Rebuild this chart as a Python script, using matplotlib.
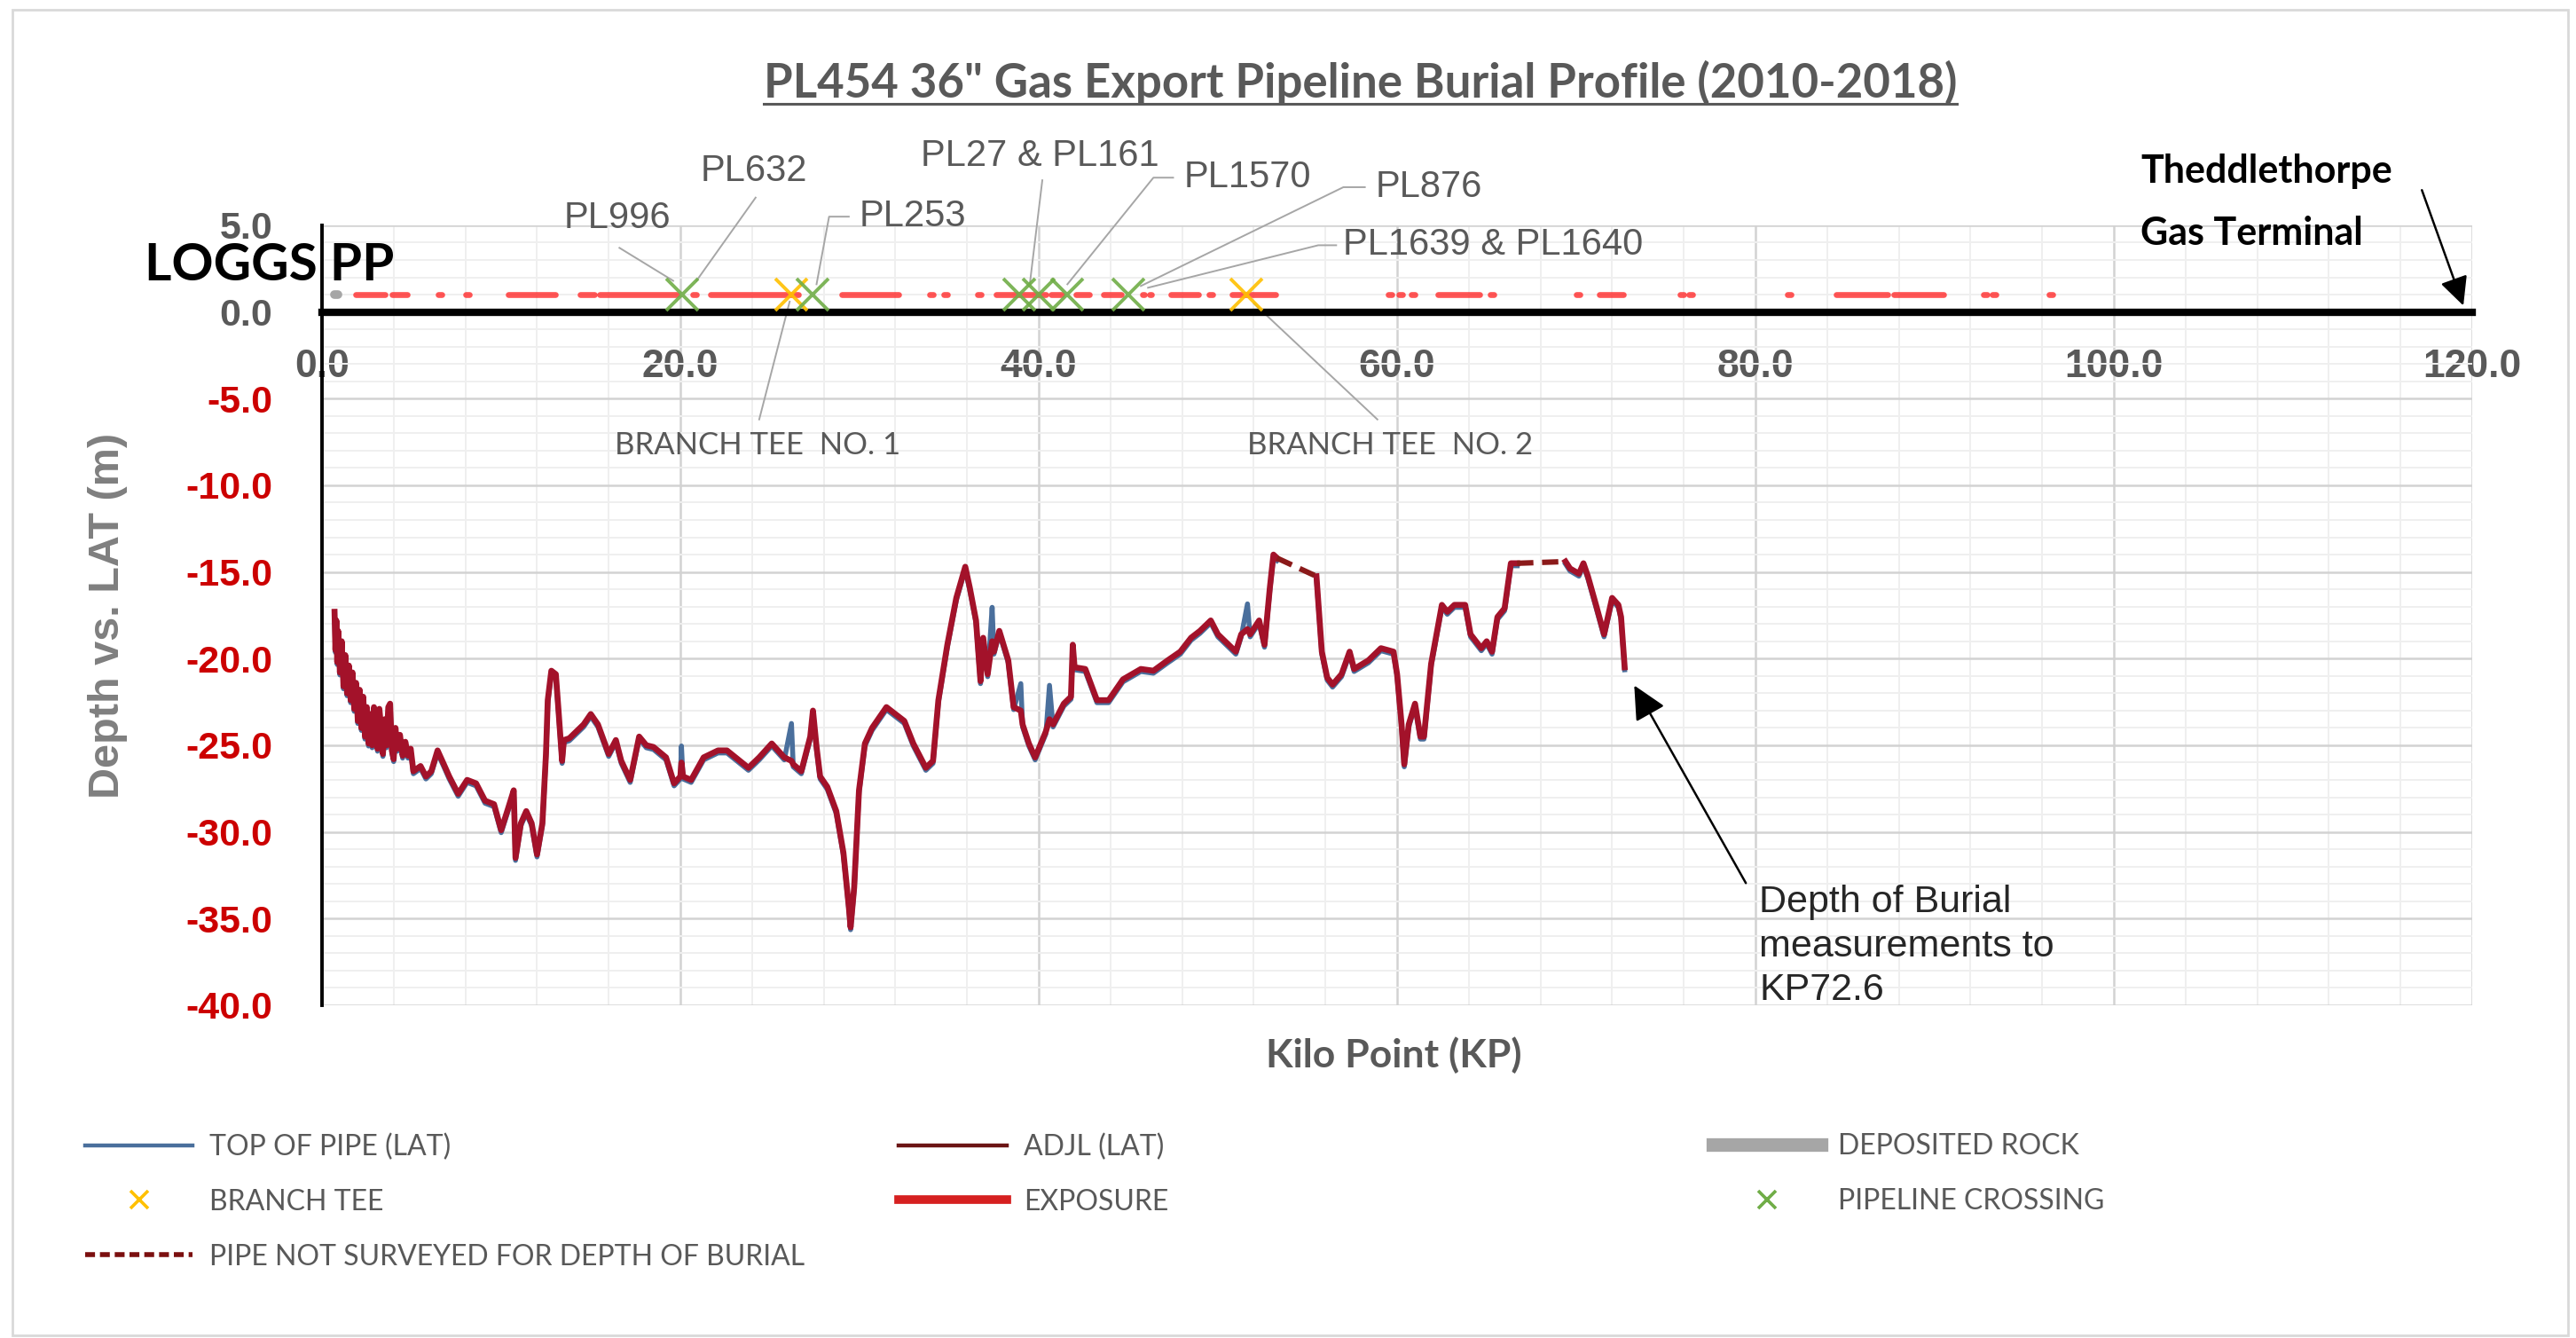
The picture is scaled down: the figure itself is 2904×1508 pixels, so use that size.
import matplotlib
matplotlib.use("Agg")
import matplotlib.pyplot as plt
import matplotlib.transforms as mtransforms
from matplotlib.lines import Line2D
from matplotlib.patches import Rectangle
import numpy as np

plt.rcParams['font.family'] = ['Liberation Sans', 'DejaVu Sans']

# ---- burial profile, block 1 (KP 0.7 - 53.3) ----
kp_1 = [0.7, 0.75, 0.8, 0.85, 0.9, 1.0, 1.1, 1.2, 1.3, 1.4,
        1.5, 1.6, 1.7, 1.8, 1.9, 2.0, 2.1, 2.2, 2.3, 2.4,
        2.5, 2.6, 2.7, 2.8, 2.9, 3.0, 3.1, 3.2, 3.3, 3.4,
        3.5, 3.6, 3.7, 3.8, 3.9, 4.0, 4.1, 4.2, 4.35, 4.5,
        4.65, 4.8, 4.95, 5.1,
        5.5, 5.8, 6.1, 6.45, 6.8, 7.1,
        7.6, 8.1, 8.6, 9.1, 9.6, 10.0, 10.4, 10.7, 10.8, 11.1,
        11.4, 11.7, 12.0, 12.3, 12.5, 12.6, 12.8, 13.05, 13.2, 13.4,
        13.5, 13.8, 14.2, 14.6, 15.0, 15.4, 16.0, 16.4, 16.7, 17.2,
        17.7, 18.1, 18.5, 19.2, 19.65, 20.0, 20.06, 20.15, 20.6, 21.3,
        22.1, 22.6, 23.2, 23.8, 24.4, 25.1, 25.8, 26.2, 26.3, 26.75,
        27.25, 27.4, 27.6, 27.8, 28.2, 28.7, 29.1, 29.4, 29.5, 29.7,
        29.97, 30.3, 30.7, 31.5, 32.5, 33.0, 33.7, 34.1, 34.4, 34.9,
        35.4, 35.9, 36.15, 36.5, 36.75, 36.9, 37.15, 37.4, 37.5, 37.8,
        38.3, 38.6, 39.0, 39.1, 39.45, 39.8, 40.4, 40.6, 40.8, 41.4,
        41.8, 41.9, 42.0, 42.6, 43.25, 43.9, 44.7, 45.7, 46.4, 47.2,
        47.9, 48.5, 49.0, 49.6, 50.0, 51.0, 51.3, 51.65, 51.8, 52.3,
        52.6, 52.9, 53.1, 53.3]
adjl_1 = [-17.3, -19.5, -17.8, -20.2, -18.4, -20.8, -19.0, -21.6, -19.8, -22.0,
          -20.4, -22.4, -20.8, -22.9, -21.4, -23.6, -21.8, -24.0, -22.2, -24.5,
          -22.8, -24.9, -23.2, -25.0, -22.8, -23.2, -25.2, -22.9, -24.0, -25.5,
          -23.5, -25.0, -22.8, -22.6, -25.3, -25.8, -24.0, -25.2, -24.4, -25.6,
          -24.8, -25.6, -25.2, -26.5,
          -26.2, -26.8, -26.5, -25.3, -26.1, -26.8,
          -27.8, -27.0, -27.2, -28.2, -28.4, -29.9, -28.6, -27.6, -31.5, -29.5,
          -28.8, -29.5, -31.3, -29.5, -25.5, -22.4, -20.7, -20.9, -23.0, -25.9,
          -24.7, -24.6, -24.2, -23.8, -23.2, -23.8, -25.5, -24.7, -25.9, -27.0,
          -24.5, -25.0, -25.1, -25.7, -27.2, -26.8, -26.0, -26.8, -27.0, -25.7,
          -25.3, -25.3, -25.8, -26.3, -25.7, -24.9, -25.7, -25.9, -26.1, -26.5,
          -24.5, -23.0, -25.1, -26.8, -27.4, -28.8, -31.2, -34.3, -35.5, -33.2,
          -27.6, -24.9, -24.0, -22.8, -23.6, -24.9, -26.3, -25.9, -22.4, -19.2,
          -16.5, -14.7, -15.9, -17.8, -21.3, -18.8, -20.9, -19.0, -19.6, -18.4,
          -20.1, -22.8, -23.0, -23.8, -24.9, -25.7, -24.2, -23.5, -23.8, -22.6,
          -22.2, -19.2, -20.5, -20.6, -22.4, -22.4, -21.2, -20.6, -20.7, -20.1,
          -19.6, -18.8, -18.4, -17.8, -18.6, -19.6, -18.6, -18.3, -18.6, -17.8,
          -19.2, -15.9, -14.0, -14.2]
top_of_pipe_1 = [-17.3, -19.5, -17.8, -20.2, -18.4, -20.8, -19.0, -21.6, -19.8, -22.0,
                 -20.4, -22.4, -20.8, -22.9, -21.4, -23.6, -21.8, -24.0, -22.2, -24.5,
                 -22.8, -24.9, -23.2, -25.0, -22.8, -23.2, -25.2, -22.9, -24.0, -25.5,
                 -23.5, -25.0, -22.8, -22.6, -25.3, -25.8, -24.0, -25.2, -24.4, -25.6,
                 -24.8, -25.6, -25.2, -26.5,
                 -26.2, -26.8, -26.5, -25.3, -26.1, -26.8,
                 -27.8, -27.0, -27.2, -28.2, -28.4, -29.9, -28.6, -27.6, -31.5, -29.5,
                 -28.8, -29.5, -31.3, -29.5, -25.5, -22.4, -20.7, -20.9, -23.0, -25.9,
                 -24.7, -24.6, -24.2, -23.8, -23.2, -23.8, -25.5, -24.7, -25.9, -27.0,
                 -24.5, -25.0, -25.1, -25.7, -27.2, -26.8, -24.9, -26.8, -27.0, -25.7,
                 -25.3, -25.3, -25.8, -26.3, -25.7, -24.9, -25.7, -23.6, -26.1, -26.5,
                 -24.5, -23.0, -25.1, -26.8, -27.4, -28.8, -31.2, -34.3, -35.5, -33.2,
                 -27.6, -24.9, -24.0, -22.8, -23.6, -24.9, -26.3, -25.9, -22.4, -19.2,
                 -16.5, -14.7, -15.9, -17.8, -21.3, -18.8, -20.9, -16.9, -19.6, -18.4,
                 -20.1, -22.8, -21.3, -23.8, -24.9, -25.7, -24.2, -21.4, -23.8, -22.6,
                 -22.2, -19.2, -20.5, -20.6, -22.4, -22.4, -21.2, -20.6, -20.7, -20.1,
                 -19.6, -18.8, -18.4, -17.8, -18.6, -19.6, -18.6, -16.7, -18.6, -17.8,
                 -19.2, -15.9, -14.0, -14.2]

# ---- block 2 (KP 55.5 - 66.7) ----
kp_2 = [55.5, 55.8, 56.1, 56.4, 56.9, 57.35, 57.6, 58.4, 59.1, 59.8,
        60.0, 60.25, 60.4, 60.65, 61.0, 61.3, 61.5, 61.9, 62.5, 62.8,
        63.2, 63.8, 64.1, 64.7, 65.0, 65.3, 65.6, 66.0, 66.35, 66.7]
adjl_2 = [-15.25, -19.6, -21.1, -21.5, -20.9, -19.6, -20.6, -20.1, -19.4, -19.6,
          -20.9, -23.8, -26.1, -23.8, -22.6, -24.5, -24.5, -20.3, -16.9, -17.3,
          -16.9, -16.9, -18.6, -19.4, -19.0, -19.6, -17.6, -17.1, -14.5, -14.5]

# ---- block 3 (KP 69.4 - 72.7) ----
kp_3 = [69.4, 69.65, 70.15, 70.4, 70.65, 71.1, 71.55, 72.0, 72.35, 72.5, 72.7]
adjl_3 = [-14.4, -14.8, -15.1, -14.5, -15.25, -16.9, -18.6, -16.5, -16.9, -17.6, -20.5]

# pipe not surveyed for depth of burial (dashed)
not_surveyed_kp = [[53.3, 55.5], [66.7, 69.4]]
not_surveyed_depth = [[-14.2, -15.25], [-14.5, -14.4]]

# exposures (start KP, end KP)
exposures = [(1.9, 3.5), (3.9, 4.75), (6.5, 6.7), (8.0, 8.2), (10.4, 13.0),
             (14.4, 15.2), (15.5, 19.8), (20.7, 20.9), (21.7, 26.6), (29.0, 32.2),
             (33.9, 34.1), (34.7, 34.9), (36.6, 36.8), (37.6, 40.4), (40.7, 41.3),
             (42.1, 42.8), (43.6, 44.6), (45.8, 45.9), (46.2, 46.3), (47.4, 48.9),
             (49.5, 49.7), (50.8, 53.2), (59.5, 59.7), (60.1, 60.3), (60.8, 61.0),
             (62.3, 64.6), (65.2, 65.4), (70.0, 70.2), (71.3, 72.6), (75.8, 76.0),
             (76.3, 76.5), (81.8, 82.0), (84.5, 87.4), (87.7, 90.5), (92.7, 92.9),
             (93.2, 93.4), (96.4, 96.6)]
deposited_rock = [(0.7, 0.9)]
branch_tee_kp = [26.2, 51.6]
crossing_kp = [20.1, 27.4, 38.9, 40.0, 41.6, 45.0]

x_ticks = [0, 20, 40, 60, 80, 100, 120]
y_ticks = [5, 0, -5, -10, -15, -20, -25, -30, -35, -40]

GRAY_TXT = '#595959'
BLUE = '#4a6f9c'
ADJL_RED = '#a3122a'
EXPO_RED = '#ff2a2a'
YELLOW = '#ffc000'
GREEN = '#70ad47'

fig = plt.figure(figsize=(14.52, 7.54), dpi=200)
fig.patches.append(Rectangle((0.0048, 0.002), 0.992, 0.991, transform=fig.transFigure,
                             fill=False, edgecolor='#d9d9d9', lw=1.0))
ax = fig.add_axes([0.125, 0.2487, 0.8347, 0.5829])

# spines first: moving the bottom spine resets the ticks
for s in ['top', 'right']:
    ax.spines[s].set_visible(False)
ax.spines['bottom'].set_position(('data', 0))
ax.spines['bottom'].set_linewidth(3.0)
ax.spines['left'].set_linewidth(1.4)

ax.set_xlim(0, 120)
ax.set_ylim(-40, 5)
ax.set_xticks(x_ticks, labels=['%.1f' % v for v in x_ticks])
ax.set_xticks(np.arange(0, 121, 4), minor=True)
ax.set_yticks(y_ticks, labels=['%.1f' % v for v in y_ticks])
ax.set_yticks(np.arange(-40, 6, 1), minor=True)
ax.grid(which='major', color='#d2d2d2', lw=0.9)
ax.grid(which='minor', color='#efefef', lw=0.7)
ax.set_axisbelow(True)
ax.tick_params(which='both', length=0)
ax.tick_params(axis='x', pad=15, labelsize=16, labelcolor=GRAY_TXT)
ax.tick_params(axis='y', pad=20, labelsize=15.5)
for lbl in ax.get_xticklabels():
    lbl.set_fontweight('bold')
for lbl, v in zip(ax.get_yticklabels(), y_ticks):
    lbl.set_fontweight('bold')
    lbl.set_color(GRAY_TXT if v >= 0 else '#cc0000')

# profile lines (blue drawn a touch lower so its edge shows under the red)
blue_tr = mtransforms.offset_copy(ax.transData, fig=fig, x=0, y=-1.0, units='points')
ax.plot(kp_1, top_of_pipe_1, color=BLUE, lw=2.0, transform=blue_tr, zorder=3)
ax.plot(kp_2, adjl_2, color=BLUE, lw=2.0, transform=blue_tr, zorder=3)
ax.plot(kp_3, adjl_3, color=BLUE, lw=2.0, transform=blue_tr, zorder=3)
for k, d in [(kp_1, adjl_1), (kp_2, adjl_2), (kp_3, adjl_3)]:
    ax.plot(k, d, color=ADJL_RED, lw=2.4, zorder=4)
for k, d in zip(not_surveyed_kp, not_surveyed_depth):
    ax.plot(k, d, color='#8b1a1a', lw=2.2, ls=(0, (3, 1.6)), zorder=4)

# exposures / rock / markers along the top strip
for s, e in exposures:
    ax.plot([s, e], [1.0, 1.0], color=EXPO_RED, lw=2.4, alpha=0.8,
            solid_capstyle='round', zorder=4)
for s, e in deposited_rock:
    ax.plot([s, e], [1.0, 1.0], color='#a6a6a6', lw=3.5, solid_capstyle='round', zorder=4)
ax.plot(branch_tee_kp, [1.0] * len(branch_tee_kp), 'x', color=YELLOW, ms=13, mew=1.4,
        alpha=0.9, zorder=5, clip_on=False)
ax.plot(crossing_kp, [1.0] * len(crossing_kp), 'x', color=GREEN, ms=13, mew=1.4,
        alpha=0.9, zorder=6, clip_on=False)

# crossing labels with leader lines
lead = dict(color='#a6a6a6', lw=0.7, clip_on=False, zorder=2)
lab = dict(fontsize=15, color=GRAY_TXT, va='center')
ax.plot([16.6, 19.6], [3.7, 1.8], **lead)
ax.text(16.5, 5.4, 'PL996', ha='center', **lab)
ax.plot([24.2, 20.9], [6.6, 1.8], **lead)
ax.text(24.1, 8.1, 'PL632', ha='center', **lab)
ax.plot([29.4, 28.3, 27.6], [5.5, 5.5, 1.6], **lead)
ax.text(30.0, 5.5, 'PL253', ha='left', **lab)
ax.plot([40.2, 39.5], [7.6, 1.6], **lead)
ax.text(40.05, 9.0, 'PL27 & PL161', ha='center', **lab)
ax.plot([47.5, 46.4, 41.6], [7.75, 7.75, 1.6], **lead)
ax.text(48.1, 7.75, 'PL1570', ha='left', **lab)
ax.plot([58.2, 57.0, 45.7], [7.2, 7.2, 1.5], **lead)
ax.text(58.8, 7.2, 'PL876', ha='left', **lab)
ax.plot([56.6, 55.6, 46.1], [3.85, 3.85, 1.4], **lead)
ax.text(57.0, 3.85, 'PL1639 & PL1640', ha='left', **lab)

# branch tee labels
ax.plot([26.1, 24.4], [0.6, -6.2], **lead)
ax.plot([52.0, 58.9], [0.5, -6.2], **lead)
bt = dict(fontfamily='Lato', fontsize=12.5, color=GRAY_TXT, ha='center', va='center')
ax.text(24.3, -7.7, 'BRANCH TEE  NO. 1', **bt)
ax.text(59.6, -7.7, 'BRANCH TEE  NO. 2', **bt)

# end annotations
ax.text(-9.9, 2.65, 'LOGGS PP', fontfamily='Lato', fontweight='bold', fontsize=21,
        color='black', ha='left', va='center', zorder=1)
ax.text(101.5, 8.1, 'Theddlethorpe', fontfamily='Lato', fontweight='bold', fontsize=15.5,
        color='black', ha='left', va='center')
ax.text(101.5, 4.55, 'Gas Terminal', fontfamily='Lato', fontweight='bold', fontsize=15.5,
        color='black', ha='left', va='center')
ax.annotate('', xy=(119.6, 0.1), xytext=(117.1, 7.3), annotation_clip=False,
            arrowprops=dict(arrowstyle='-|>,head_length=0.45,head_width=0.22',
                            color='black', lw=0.9, mutation_scale=22))
ax.text(80.2, -36.6, 'Depth of Burial\nmeasurements to\nKP72.6', fontsize=15.5,
        color='#262626', ha='left', va='center', linespacing=1.3)
ax.annotate('', xy=(73.1, -21.3), xytext=(79.6, -33.2),
            arrowprops=dict(arrowstyle='-|>,head_length=0.45,head_width=0.22',
                            color='black', lw=0.9, mutation_scale=26))

# titles
title = fig.text(0.528, 0.938, 'PL454 36" Gas Export Pipeline Burial Profile (2010-2018)',
                 fontfamily='Lato', fontweight='bold', fontsize=19, color=GRAY_TXT,
                 ha='center', va='center')
fig.text(0.541, 0.2115, 'Kilo Point (KP)', fontfamily='Lato', fontweight='bold',
         fontsize=16, color=GRAY_TXT, ha='center', va='center')
fig.text(0.042, 0.540, 'Depth vs. LAT (m)', fontsize=17.5, fontweight='bold',
         color='#7f7f7f', rotation=90, ha='center', va='center')

# legend, three columns placed separately
leg_kw = dict(loc='upper left', frameon=False, borderaxespad=0, borderpad=0,
              handlelength=3.8, handletextpad=0.6, labelspacing=1.0,
              prop={'family': 'Lato', 'size': 11.5}, labelcolor=GRAY_TXT)
col1 = [Line2D([], [], color=BLUE, lw=1.6),
        Line2D([], [], ls='none', marker='x', color=YELLOW, ms=7, mew=1.3),
        Line2D([], [], color='#7b0f0f', lw=2.0, ls=(0, (2, 1)))]
fig.legend(col1, ['TOP OF PIPE (LAT)', 'BRANCH TEE', 'PIPE NOT SURVEYED FOR DEPTH OF BURIAL'],
           bbox_to_anchor=(0.033, 0.153), **leg_kw)
col2 = [Line2D([], [], color='#6b1515', lw=1.6),
        Line2D([], [], color='#d62020', lw=3.5)]
fig.legend(col2, ['ADJL (LAT)', 'EXPOSURE'], bbox_to_anchor=(0.349, 0.153), **leg_kw)
col3 = [Line2D([], [], color='#a6a6a6', lw=5.5),
        Line2D([], [], ls='none', marker='x', color=GREEN, ms=7, mew=1.3)]
fig.legend(col3, ['DEPOSITED ROCK', 'PIPELINE CROSSING'], bbox_to_anchor=(0.665, 0.153), **leg_kw)

# underline the title
fig.canvas.draw()
bb = title.get_window_extent()
W, H = fig.bbox.width, fig.bbox.height
uy = (bb.y0 + 2) / H
fig.add_artist(Line2D([bb.x0 / W, bb.x1 / W], [uy, uy], color=GRAY_TXT, lw=1.1,
                      transform=fig.transFigure))

fig.savefig('out.png', dpi=200, facecolor='white')
